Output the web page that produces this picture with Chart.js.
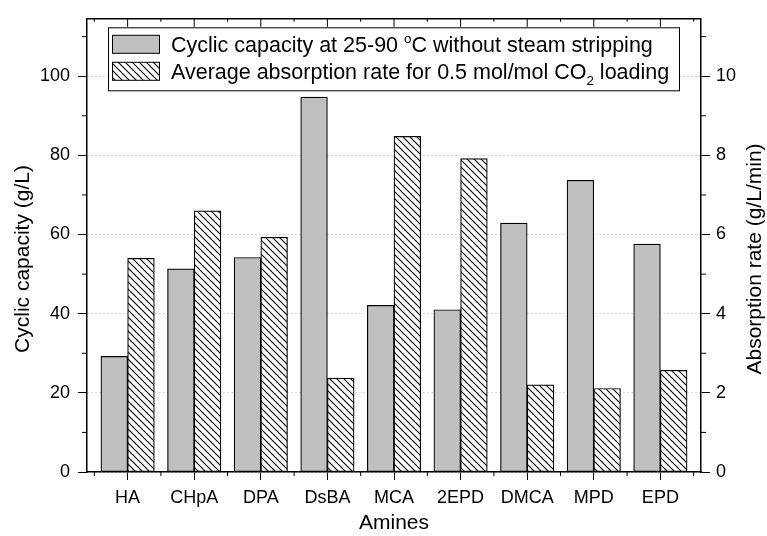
<!DOCTYPE html>
<html>
<head>
<meta charset="utf-8">
<script src="https://cdn.jsdelivr.net/npm/chart.js@4.4.0/dist/chart.umd.min.js"></script>
<style>
  html, body { margin: 0; padding: 0; background: #fff; }
  #wrap { width: 767px; height: 536px; position: relative; }
</style>
</head>
<body>
<div id="wrap"><canvas id="chart"></canvas></div>
<script>
// --- data ---
const AMINES = ['HA', 'CHpA', 'DPA', 'DsBA', 'MCA', '2EPD', 'DMCA', 'MPD', 'EPD'];
const CYCLIC_CAPACITY = [29.2, 51.3, 54.2, 94.7, 42.1, 41.0, 62.9, 73.7, 57.6];   // g/L, left axis
const ABSORPTION_RATE = [5.40, 6.60, 5.93, 2.37, 8.48, 7.92, 2.20, 2.11, 2.57];   // g/L/min, right axis
const LEFT_TICKS = [0, 20, 40, 60, 80, 100];
const RIGHT_TICKS = [0, 2, 4, 6, 8, 10];

// legend rows, split so the degree sign and the CO2 index can be raised / lowered
const LEGEND_CAPACITY = [
    { t: 'Cyclic capacity at 25-90 ' }, { t: 'o', sup: true }, { t: 'C without steam stripping' }
];
const LEGEND_RATE = [
    { t: 'Average absorption rate for 0.5 mol/mol CO' }, { t: '2', sub: true }, { t: ' loading' }
];

// --- style ---
const FONT = "'Liberation Sans', Arial, sans-serif";
const GRAY = '#c0c0c0';

const makeHatch = (size) => {
    const c = document.createElement('canvas');
    c.width = c.height = size;
    const g = c.getContext('2d');
    g.fillStyle = '#fff';
    g.fillRect(0, 0, size, size);
    g.strokeStyle = '#000';
    g.lineWidth = 1.1;
    g.beginPath();
    g.moveTo(-1, -1); g.lineTo(size + 1, size + 1);
    g.moveTo(-1, size - 1); g.lineTo(1, size + 1);
    g.moveTo(size - 1, -1); g.lineTo(size + 1, 1);
    g.stroke();
    return g.createPattern(c, 'repeat');
};
const HATCH = makeHatch(7);

const drawRich = (ctx, parts, x, baseline, size) => {
    parts.forEach(p => {
        let s = size, dy = 0;
        if (p.sup) { s = size * 0.62; dy = -size * 0.42; }
        if (p.sub) { s = size * 0.62; dy = size * 0.3; }
        ctx.font = `${s}px ${FONT}`;
        ctx.fillText(p.t, x, baseline + dy);
        x += ctx.measureText(p.t).width;
    });
};

const line = (ctx, x1, y1, x2, y2) => {
    ctx.beginPath(); ctx.moveTo(x1, y1); ctx.lineTo(x2, y2); ctx.stroke();
};

// minor ticks, top frame, rotated y titles and the in-plot legend
const decorations = {
    id: 'decorations',
    afterDraw(chart) {
        const { ctx, chartArea: a, scales: { x, y, y2 } } = chart;
        ctx.save();
        ctx.strokeStyle = '#000';
        ctx.lineWidth = 1.5;
        line(ctx, a.left, a.top, a.right, a.top);

        ctx.lineWidth = 1;
        AMINES.forEach((_, i) => {
            const px = x.getPixelForValue(i + 1);
            line(ctx, px, a.top, px, a.top + 8);
        });
        for (let v = 0.5; v < AMINES.length + 1; v += 1) {
            const px = x.getPixelForValue(v);
            line(ctx, px, a.top, px, a.top + 3);
            line(ctx, px, a.bottom, px, a.bottom + 4);
        }
        for (let v = 10; v < y.max; v += 20) {
            const py = y.getPixelForValue(v);
            line(ctx, a.left - 5, py, a.left, py);
        }
        for (let v = 1; v < y2.max; v += 2) {
            const py = y2.getPixelForValue(v);
            line(ctx, a.right, py, a.right + 5, py);
        }

        // axis titles, both reading bottom to top
        ctx.fillStyle = '#000';
        ctx.font = `21px ${FONT}`;
        ctx.textAlign = 'center';
        ctx.textBaseline = 'middle';
        [[23, 'Cyclic capacity (g/L)'], [755, 'Absorption rate (g/L/min)']].forEach(([tx, text]) => {
            ctx.save();
            ctx.translate(tx, 259);
            ctx.rotate(-Math.PI / 2);
            ctx.fillText(text, 0, 0);
            ctx.restore();
        });

        // legend box
        const lx = a.left + 21, ly = a.top + 8.5, lw = 571, lh = 63;
        ctx.fillStyle = '#fff';
        ctx.fillRect(lx, ly, lw, lh);
        ctx.strokeRect(lx + 0.5, ly + 0.5, lw, lh);
        ctx.textAlign = 'left';
        ctx.textBaseline = 'alphabetic';
        [[ly + 17, GRAY, LEGEND_CAPACITY], [ly + 44, HATCH, LEGEND_RATE]].forEach(([cy, fill, parts]) => {
            ctx.fillStyle = fill;
            ctx.fillRect(lx + 4.5, cy - 9, 47, 18);
            ctx.strokeRect(lx + 4.5, cy - 9, 47, 18);
            ctx.fillStyle = '#000';
            drawRich(ctx, parts, lx + 63, cy + 7.5, 21.5);
        });
        ctx.restore();
    }
};

const tickFont = { family: FONT, size: 18 };

new Chart(document.getElementById('chart'), {
    type: 'bar',
    data: {
        datasets: [
            {
                label: 'Cyclic capacity',
                data: CYCLIC_CAPACITY.map((v, i) => ({ x: i + 1, y: v })),
                yAxisID: 'y',
                backgroundColor: GRAY,
                borderColor: '#000',
                borderWidth: 1.2,
                borderSkipped: false,
                barThickness: 26.7
            },
            {
                label: 'Absorption rate',
                data: ABSORPTION_RATE.map((v, i) => ({ x: i + 1, y: v })),
                yAxisID: 'y2',
                backgroundColor: HATCH,
                borderColor: '#000',
                borderWidth: 1.2,
                borderSkipped: false,
                barThickness: 26.7
            }
        ]
    },
    options: {
        responsive: true,
        maintainAspectRatio: false,
        animation: false,
        layout: { padding: { top: 15, left: 0, right: 0, bottom: 0 } },
        plugins: { legend: { display: false }, tooltip: { enabled: false } },
        scales: {
            x: {
                type: 'linear',
                offset: false,
                min: 0.39,
                max: 9.61,
                afterFit: s => { s.height = 64; },
                afterBuildTicks: s => { s.ticks = AMINES.map((_, i) => ({ value: i + 1 })); },
                ticks: {
                    callback: v => AMINES[v - 1] || '',
                    autoSkip: false, maxRotation: 0, color: '#000', font: tickFont, padding: 7
                },
                grid: { drawOnChartArea: false, offset: false, tickLength: 8, tickColor: '#000', tickWidth: 1 },
                border: { color: '#000', width: 1.5 },
                title: { display: true, text: 'Amines', color: '#000', font: { family: FONT, size: 21 }, padding: { bottom: 0 } }
            },
            y: {
                position: 'left',
                min: 0,
                max: 114.5,
                afterFit: s => { s.width = 87; },
                afterBuildTicks: s => { s.ticks = LEFT_TICKS.map(v => ({ value: v })); },
                ticks: { color: '#000', font: tickFont, padding: 8 },
                grid: { color: '#b4b4b4', tickLength: 9, tickColor: '#000', tickWidth: 1 },
                border: { color: '#000', width: 1.5, dash: [1, 3] }
            },
            y2: {
                position: 'right',
                min: 0,
                max: 11.45,
                afterFit: s => { s.width = 66; },
                afterBuildTicks: s => { s.ticks = RIGHT_TICKS.map(v => ({ value: v })); },
                ticks: { color: '#000', font: tickFont, padding: 6 },
                grid: { drawOnChartArea: false, tickLength: 9, tickColor: '#000', tickWidth: 1 },
                border: { color: '#000', width: 1.5 }
            }
        }
    },
    plugins: [decorations]
});
</script>
</body>
</html>
